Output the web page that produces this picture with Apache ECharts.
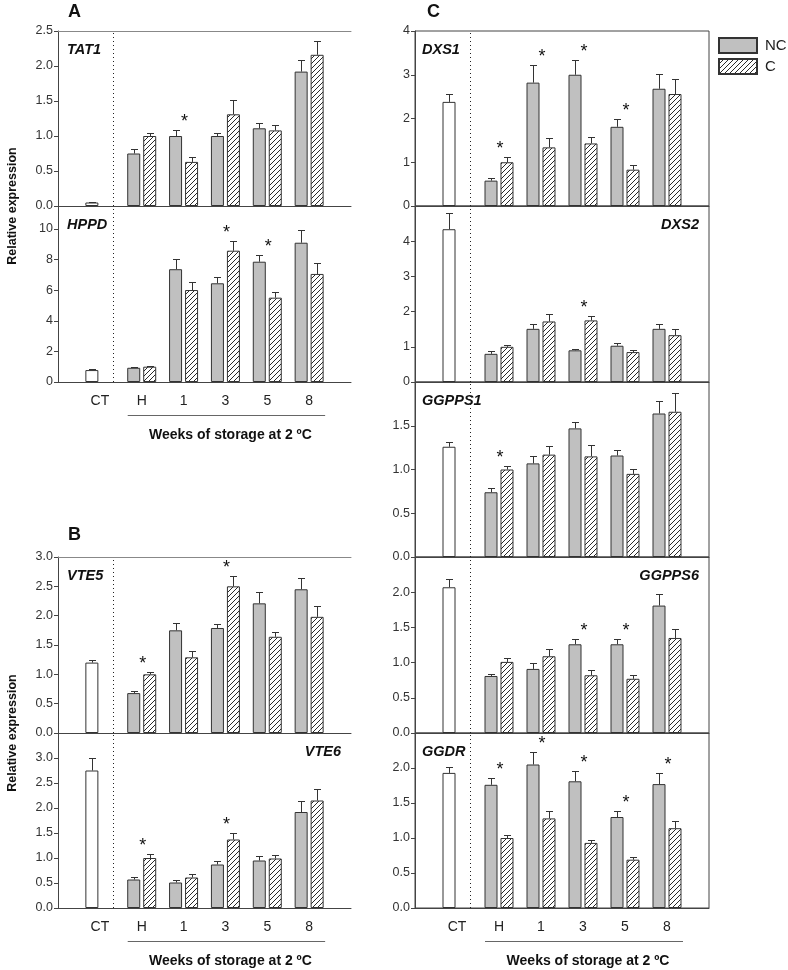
<!DOCTYPE html>
<html>
<head>
<meta charset="utf-8">
<title>Relative expression</title>
<script src="https://cdn.jsdelivr.net/npm/echarts@6/dist/echarts.min.js"></script>
<style>
  html, body { margin: 0; padding: 0; background: #fff; }
  #chart { width: 788px; height: 970px; }
</style>
</head>
<body>
<div id="chart"></div>
<script>
// sample groups: control, harvest, weeks of storage
const categories = ['CT', 'H', '1', '3', '5', '8'];

// A
const TAT1_NC = [0.05, 0.75, 1.00, 1.00, 1.11, 1.92];
const TAT1_NC_ERR = [0.01, 0.07, 0.09, 0.04, 0.08, 0.17];
const TAT1_C = [null, 1.00, 0.63, 1.31, 1.08, 2.16];
const TAT1_C_ERR = [null, 0.05, 0.07, 0.20, 0.08, 0.20];
const TAT1_SIG = [0, 0, 1, 0, 0, 0];

const HPPD_NC = [0.78, 0.93, 7.37, 6.45, 7.86, 9.10];
const HPPD_NC_ERR = [0.05, 0.05, 0.65, 0.40, 0.44, 0.83];
const HPPD_C = [null, 1.00, 6.01, 8.58, 5.51, 7.06];
const HPPD_C_ERR = [null, 0.06, 0.55, 0.65, 0.37, 0.70];
const HPPD_SIG = [0, 0, 0, 1, 1, 0];

// B
const VTE5_NC = [1.20, 0.68, 1.75, 1.79, 2.21, 2.45];
const VTE5_NC_ERR = [0.05, 0.03, 0.13, 0.07, 0.19, 0.20];
const VTE5_C = [null, 1.00, 1.29, 2.50, 1.64, 1.98];
const VTE5_C_ERR = [null, 0.04, 0.10, 0.18, 0.09, 0.18];
const VTE5_SIG = [0, 1, 0, 1, 0, 0];

const VTE6_NC = [2.75, 0.57, 0.51, 0.87, 0.95, 1.92];
const VTE6_NC_ERR = [0.25, 0.05, 0.06, 0.07, 0.10, 0.22];
const VTE6_C = [null, 1.00, 0.61, 1.37, 0.99, 2.15];
const VTE6_C_ERR = [null, 0.08, 0.07, 0.14, 0.08, 0.23];
const VTE6_SIG = [0, 1, 0, 1, 0, 0];

// C
const DXS1_NC = [2.38, 0.58, 2.82, 3.00, 1.81, 2.68];
const DXS1_NC_ERR = [0.19, 0.05, 0.41, 0.33, 0.19, 0.34];
const DXS1_C = [null, 1.00, 1.34, 1.43, 0.83, 2.56];
const DXS1_C_ERR = [null, 0.12, 0.22, 0.15, 0.11, 0.34];
const DXS1_SIG = [0, 1, 1, 1, 1, 0];

const DXS2_NC = [4.34, 0.80, 1.51, 0.90, 1.03, 1.51];
const DXS2_NC_ERR = [0.45, 0.07, 0.14, 0.05, 0.08, 0.14];
const DXS2_C = [null, 1.00, 1.72, 1.75, 0.85, 1.33];
const DXS2_C_ERR = [null, 0.06, 0.20, 0.12, 0.07, 0.17];
const DXS2_SIG = [0, 0, 0, 1, 0, 0];

const GGPPS1_NC = [1.26, 0.74, 1.07, 1.47, 1.16, 1.64];
const GGPPS1_NC_ERR = [0.05, 0.05, 0.08, 0.07, 0.06, 0.14];
const GGPPS1_C = [null, 1.00, 1.17, 1.15, 0.95, 1.66];
const GGPPS1_C_ERR = [null, 0.04, 0.10, 0.13, 0.06, 0.21];
const GGPPS1_SIG = [0, 1, 0, 0, 0, 0];

const GGPPS6_NC = [2.07, 0.81, 0.91, 1.26, 1.26, 1.81];
const GGPPS6_NC_ERR = [0.12, 0.03, 0.08, 0.07, 0.08, 0.16];
const GGPPS6_C = [null, 1.01, 1.09, 0.82, 0.77, 1.35];
const GGPPS6_C_ERR = [null, 0.06, 0.10, 0.07, 0.05, 0.13];
const GGPPS6_SIG = [0, 0, 0, 1, 1, 0];

const GGDR_NC = [1.93, 1.76, 2.05, 1.81, 1.30, 1.77];
const GGDR_NC_ERR = [0.09, 0.10, 0.18, 0.15, 0.08, 0.16];
const GGDR_C = [null, 1.00, 1.28, 0.93, 0.69, 1.14];
const GGDR_C_ERR = [null, 0.04, 0.11, 0.04, 0.04, 0.11];
const GGDR_SIG = [0, 1, 1, 1, 1, 1];

// layout
const FONT = '"Liberation Sans", Arial, sans-serif';
const COL_LEFT = [58, 415];
const COL_W = [293, 294];
const ROW_TOP = [31, 206, 382, 557, 733];
const ROW_H = [175, 176, 175, 176, 175];
const BAR_W = 13;
const BAR_GAP = 0.23;
const OFFSET = BAR_W * (1 + BAR_GAP) / 2;
const CAP = 3.5;
const LINE = '#444';

// first: top panel of a block, bottom: gets the x labels
const panels = [
    { name: 'TAT1', col: 0, row: 0, max: 2.5, step: 0.5, top: 2.5, dec: 1, side: 'left', first: true,
      nc: TAT1_NC, ncErr: TAT1_NC_ERR, c: TAT1_C, cErr: TAT1_C_ERR, sig: TAT1_SIG },
    { name: 'HPPD', col: 0, row: 1, max: 11.5, step: 2, top: 10, dec: 0, side: 'left', bottom: true,
      nc: HPPD_NC, ncErr: HPPD_NC_ERR, c: HPPD_C, cErr: HPPD_C_ERR, sig: HPPD_SIG },
    { name: 'VTE5', col: 0, row: 3, max: 3, step: 0.5, top: 3, dec: 1, side: 'left', first: true,
      nc: VTE5_NC, ncErr: VTE5_NC_ERR, c: VTE5_C, cErr: VTE5_C_ERR, sig: VTE5_SIG },
    { name: 'VTE6', col: 0, row: 4, max: 3.5, step: 0.5, top: 3, dec: 1, side: 'right', bottom: true,
      nc: VTE6_NC, ncErr: VTE6_NC_ERR, c: VTE6_C, cErr: VTE6_C_ERR, sig: VTE6_SIG },
    { name: 'DXS1', col: 1, row: 0, max: 4, step: 1, top: 4, dec: 0, side: 'left', first: true,
      nc: DXS1_NC, ncErr: DXS1_NC_ERR, c: DXS1_C, cErr: DXS1_C_ERR, sig: DXS1_SIG },
    { name: 'DXS2', col: 1, row: 1, max: 5, step: 1, top: 4, dec: 0, side: 'right',
      nc: DXS2_NC, ncErr: DXS2_NC_ERR, c: DXS2_C, cErr: DXS2_C_ERR, sig: DXS2_SIG },
    { name: 'GGPPS1', col: 1, row: 2, max: 2, step: 0.5, top: 1.5, dec: 1, side: 'left',
      nc: GGPPS1_NC, ncErr: GGPPS1_NC_ERR, c: GGPPS1_C, cErr: GGPPS1_C_ERR, sig: GGPPS1_SIG },
    { name: 'GGPPS6', col: 1, row: 3, max: 2.5, step: 0.5, top: 2, dec: 1, side: 'right',
      nc: GGPPS6_NC, ncErr: GGPPS6_NC_ERR, c: GGPPS6_C, cErr: GGPPS6_C_ERR, sig: GGPPS6_SIG },
    { name: 'GGDR', col: 1, row: 4, max: 2.5, step: 0.5, top: 2, dec: 1, side: 'left', bottom: true,
      nc: GGDR_NC, ncErr: GGDR_NC_ERR, c: GGDR_C, cErr: GGDR_C_ERR, sig: GGDR_SIG }
];

// diagonal hatch for the C bars
function makeHatch() {
    var size = 5;
    var cv = document.createElement('canvas');
    cv.width = size;
    cv.height = size;
    var ctx = cv.getContext('2d');
    ctx.fillStyle = '#fff';
    ctx.fillRect(0, 0, size, size);
    ctx.strokeStyle = '#2a2a2a';
    ctx.lineWidth = 1;
    ctx.beginPath();
    ctx.moveTo(0, size); ctx.lineTo(size, 0);
    ctx.moveTo(-1, 1); ctx.lineTo(1, -1);
    ctx.moveTo(size - 1, size + 1); ctx.lineTo(size + 1, size - 1);
    ctx.stroke();
    return cv;
}
var hatch = makeHatch();

function xOf(col, pos) {
    return COL_LEFT[col] + COL_W[col] * pos / 7;
}

// whiskers (upper only) plus the significance star
function renderWhiskers(params, api) {
    var x = api.value(0);
    var children = [];
    var topY = Infinity;
    var pairs = [[1, 2, -OFFSET], [3, 4, OFFSET]];
    pairs.forEach(function(p) {
        var v = api.value(p[0]);
        var e = api.value(p[1]);
        if (isNaN(v) || isNaN(e)) return;
        var base = api.coord([x, v]);
        var tip = api.coord([x, v + e]);
        var cx = Math.round(base[0] + p[2]) + 0.5;
        var ty = Math.round(tip[1]) + 0.5;
        children.push({ type: 'line', shape: { x1: cx, y1: base[1], x2: cx, y2: ty },
            style: { stroke: '#333', lineWidth: 1 } });
        children.push({ type: 'line', shape: { x1: cx - CAP, y1: ty, x2: cx + CAP, y2: ty },
            style: { stroke: '#333', lineWidth: 1 } });
        topY = Math.min(topY, ty);
    });
    if (api.value(5) === 1) {
        var center = api.coord([x, 0]);
        children.push({ type: 'text', x: center[0] + 1, y: topY - 8,
            style: { text: '*', fontSize: 18, fontFamily: FONT, fill: '#111', align: 'center', verticalAlign: 'middle' } });
    }
    return { type: 'group', children: children };
}

var grids = [], xAxes = [], yAxes = [], series = [], graphics = [];

panels.forEach(function(p, i) {
    var left = COL_LEFT[p.col];
    var width = COL_W[p.col];
    var top = ROW_TOP[p.row];
    var height = ROW_H[p.row];

    grids.push({
        left: left, top: top, width: width, height: height,
        show: p.col === 1, borderColor: LINE, borderWidth: 1,
        outerBoundsMode: 'none'
    });

    var xi = xAxes.length;
    xAxes.push({
        type: 'value', gridIndex: i, min: 0, max: 7, interval: 1, position: 'bottom',
        axisLine: { show: true, onZero: false, lineStyle: { color: LINE } },
        axisTick: { show: false },
        splitLine: { show: false },
        axisLabel: {
            show: !!p.bottom, margin: 12, fontSize: 14, color: '#222', fontFamily: FONT,
            formatter: function(v) { return categories[v - 1] || ''; }
        }
    });
    if (p.first && p.col === 0) {
        // top frame line of the left blocks
        xAxes.push({
            type: 'value', gridIndex: i, min: 0, max: 7, position: 'top',
            axisLine: { show: true, onZero: false, lineStyle: { color: '#888' } },
            axisTick: { show: false }, axisLabel: { show: false }, splitLine: { show: false }
        });
    }

    yAxes.push({
        type: 'value', gridIndex: i, min: 0, max: p.max, interval: p.step,
        axisLine: { show: true, lineStyle: { color: LINE } },
        axisTick: { show: true, length: 4, lineStyle: { color: LINE } },
        splitLine: { show: false },
        axisLabel: {
            margin: 5, fontSize: 12.5, color: '#333', fontFamily: FONT,
            formatter: function(v) { return v > p.top + 1e-9 ? '' : v.toFixed(p.dec); }
        }
    });

    var ncData = p.nc.map(function(v, k) {
        if (k === 0) return { value: [1, v], itemStyle: { color: '#fff' } };
        return [k + 1, v];
    });
    var cData = [];
    p.c.forEach(function(v, k) { if (v != null) cData.push([k + 1, v]); });

    series.push({
        name: 'NC', type: 'bar', xAxisIndex: xi, yAxisIndex: i,
        barWidth: BAR_W, barGap: (BAR_GAP * 100) + '%',
        itemStyle: { color: '#c0c0c0', borderColor: '#333', borderWidth: 1 },
        data: ncData,
        markLine: {
            silent: true, symbol: 'none', label: { show: false },
            lineStyle: { type: [1, 3], color: '#222', width: 1 },
            data: [{ xAxis: 1.5 }]
        }
    });
    series.push({
        name: 'C', type: 'bar', xAxisIndex: xi, yAxisIndex: i,
        barWidth: BAR_W, barGap: (BAR_GAP * 100) + '%',
        itemStyle: { color: { image: hatch, repeat: 'repeat' }, borderColor: '#333', borderWidth: 1 },
        data: cData
    });
    series.push({
        type: 'custom', xAxisIndex: xi, yAxisIndex: i,
        renderItem: renderWhiskers,
        dimensions: ['x', 'nc', 'ncErr', 'c', 'cErr', 'sig'],
        encode: { x: 0, y: 1 },
        data: categories.map(function(c, k) {
            return [k + 1, p.nc[k], p.ncErr[k], p.c[k], p.cErr[k], p.sig[k]];
        }),
        z: 3
    });

    // gene name inside the panel
    var gx = p.side === 'left' ? left + (p.col === 0 ? 9 : 7) : left + width - 10;
    graphics.push({
        type: 'text', x: gx, y: top + 18.5,
        style: { text: p.name, fontSize: 14.5, fontWeight: 'bold', fontStyle: 'italic', fontFamily: FONT,
            fill: '#111', align: p.side, verticalAlign: 'middle' }
    });

    // storage weeks bracket under the bottom panel
    if (p.bottom) {
        var yb = top + height;
        graphics.push({
            type: 'line',
            shape: { x1: xOf(p.col, 2) - 14, y1: yb + 33.5, x2: xOf(p.col, 6) + 16, y2: yb + 33.5 },
            style: { stroke: '#666', lineWidth: 1 }
        });
        graphics.push({
            type: 'text', x: (xOf(p.col, 2) + xOf(p.col, 6)) / 2 + 5, y: yb + 53,
            style: { text: 'Weeks of storage at 2 \u00baC', fontSize: 14, fontWeight: 'bold', fontFamily: FONT,
                fill: '#111', align: 'center', verticalAlign: 'middle' }
        });
    }
});

// panel letters and y titles
[['A', 68, 12], ['B', 68, 535], ['C', 427, 12]].forEach(function(t) {
    graphics.push({
        type: 'text', x: t[1], y: t[2],
        style: { text: t[0], fontSize: 18, fontWeight: 'bold', fontFamily: FONT, fill: '#111', align: 'left', verticalAlign: 'middle' }
    });
});
[206, 733].forEach(function(y) {
    graphics.push({
        type: 'text', x: 13, y: y, rotation: Math.PI / 2,
        style: { text: 'Relative expression', fontSize: 12.5, fontWeight: 'bold', fontFamily: FONT,
            fill: '#111', align: 'center', verticalAlign: 'middle' }
    });
});

var chart = echarts.init(document.getElementById('chart'));
chart.setOption({
    animation: false,
    backgroundColor: '#fff',
    legend: {
        data: ['NC', 'C'], orient: 'vertical', left: 713, top: 32,
        itemWidth: 38, itemHeight: 15, itemGap: 4, selectedMode: false,
        icon: 'rect',
        textStyle: { fontSize: 15, color: '#222', fontFamily: FONT, lineHeight: 15, padding: [0, 0, 0, 3] }
    },
    grid: grids,
    xAxis: xAxes,
    yAxis: yAxes,
    series: series,
    graphic: graphics
});

window.addEventListener('resize', function() {
    chart.resize();
});
</script>
</body>
</html>
